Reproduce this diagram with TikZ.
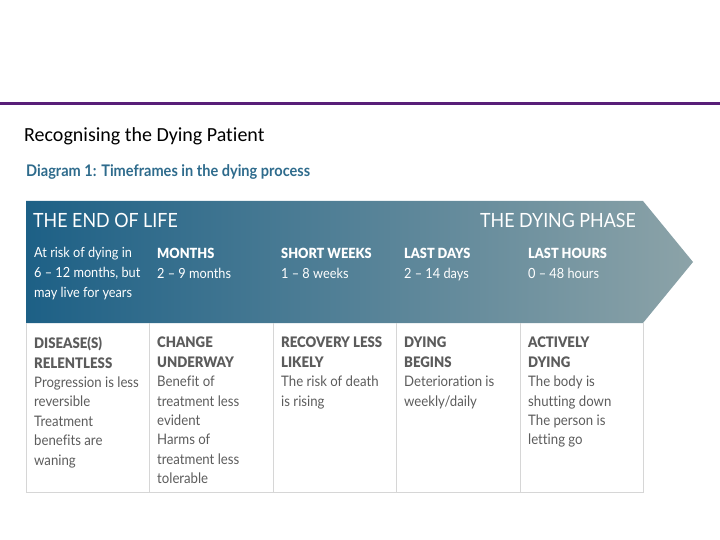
\documentclass[tikz,border=0pt]{standalone}
\usepackage{fontspec}
\setmainfont{Lato}[FakeStretch=0.91, Ligatures=NoCommon]
\newfontfamily\slidefont{Carlito}[Ligatures=NoCommon]
\newfontfamily\heavyfont{Lato Black}[FakeStretch=0.91]
\usetikzlibrary{positioning}
\definecolor{slidepurple}{RGB}{88,30,120}
\definecolor{diagblue}{RGB}{46,107,140}
\definecolor{arrowdark}{RGB}{29,96,134}
\definecolor{arrowmid}{RGB}{62,116,146}
\definecolor{arrowlight}{RGB}{140,163,168}
\definecolor{cellline}{RGB}{214,214,214}
\definecolor{celltext}{RGB}{92,92,92}
\newcommand{\hd}[1]{{\heavyfont #1}}
\tikzset{
  phase/.style={anchor=north west, inner sep=0pt, align=left, text=white,
    font=\fontsize{14}{20}\selectfont},
  stage/.style={anchor=north west, inner sep=0pt, align=left, text=celltext,
    font=\fontsize{14.5}{19.4}\selectfont},
}

\begin{document}
\begin{tikzpicture}[x=1pt,y=-1pt]
    \useasboundingbox (0,0) rectangle (720,540);
    \draw[slidepurple, line width=3pt] (0,104) -- (720,104);
    \node[font=\slidefont\fontsize{20}{22}\selectfont, anchor=base west, inner sep=0pt]
        (title) at (24,142) {Recognising the Dying Patient};
    \node[font=\bfseries\fontsize{16}{18}\selectfont, text=diagblue, anchor=base west, inner sep=0pt]
        (caption) at (26,177) {Diagram 1: Timeframes in the dying process};
    % banner
    \shade[left color=arrowdark, middle color=arrowmid, right color=arrowlight]
        (26,201) -- (643,201) -- (693,262) -- (643,323) -- (26,323) -- cycle;
    \node[font=\fontsize{19.6}{22}\selectfont, text=white, anchor=base west, inner sep=0pt]
        (endoflife) at (33,227) {THE END OF LIFE};
    \node[font=\fontsize{19.6}{22}\selectfont, text=white, anchor=base east, inner sep=0pt]
        (dyingphase) at (636,227) {THE DYING PHASE};
    \node[phase] (risk) at (34,247) {At risk of dying in\\6 – 12 months, but\\may live for years};
    \node[phase] (months) at (157,248) {\hd{MONTHS}\\2 – 9 months};
    \node[phase] (weeks) at (281,248) {\hd{SHORT WEEKS}\\1 – 8 weeks};
    \node[phase] (days) at (404,248) {\hd{LAST DAYS}\\2 – 14 days};
    \node[phase] (hours) at (528,248) {\hd{LAST HOURS}\\0 – 48 hours};
    % table
    \draw[cellline] (26,323) -- (26,492) -- (643,492) -- (643,323);
    \foreach \x in {149,273,396,520}
        \draw[cellline] (\x,323) -- (\x,492);
    \node[stage] (relentless) at (34,337) {\hd{DISEASE(S)}\\\hd{RELENTLESS}\\Progression is less\\reversible\\Treatment\\benefits are\\waning};
    \node[stage] (underway) at (157,337) {\hd{CHANGE}\\\hd{UNDERWAY}\\Benefit of\\treatment less\\evident\\Harms of\\treatment less\\tolerable};
    \node[stage] (recovery) at (281,337) {\hd{RECOVERY LESS}\\\hd{LIKELY}\\The risk of death\\is rising};
    \node[stage] (begins) at (404,337) {\hd{DYING}\\\hd{BEGINS}\\Deterioration is\\weekly/daily};
    \node[stage] (actively) at (528,337) {\hd{ACTIVELY}\\\hd{DYING}\\The body is\\shutting down\\The person is\\letting go};
\end{tikzpicture}
\end{document}
